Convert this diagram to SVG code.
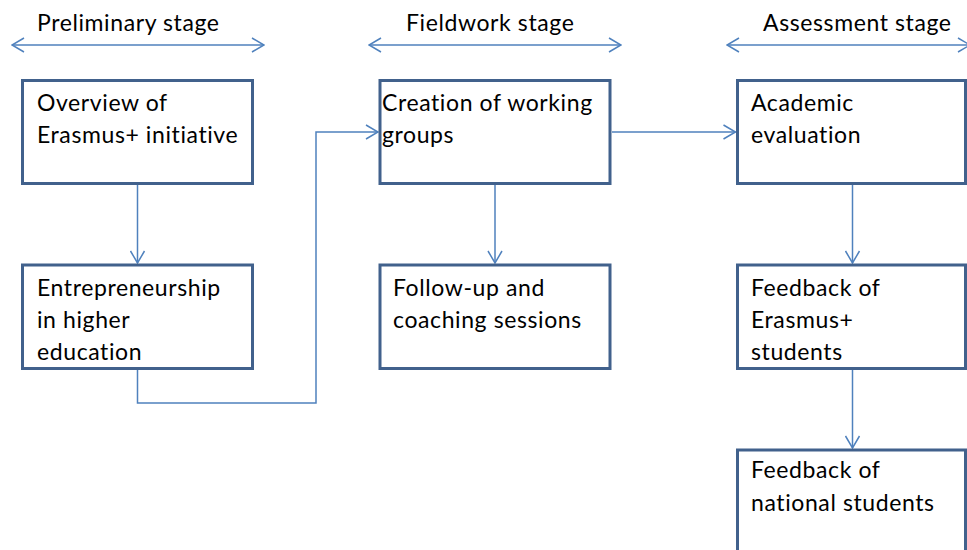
<svg xmlns="http://www.w3.org/2000/svg" width="967" height="550" viewBox="0 0 967 550">
<defs>
<style>
.box{fill:#fff;stroke:#41618c;stroke-width:3}
.con{fill:none;stroke:#4f81bd;stroke-width:1.5}
.t{font-family:Lato,"Liberation Sans",sans-serif;font-size:23px;letter-spacing:0.6px;fill:#000}
</style>
<marker id="ah" viewBox="0 0 14 16" refX="13" refY="8" markerWidth="14" markerHeight="16" markerUnits="userSpaceOnUse" orient="auto-start-reverse">
<path d="M1,1 L13,8 L1,15" fill="none" stroke="#4f81bd" stroke-width="1.5"/>
</marker>
</defs>
<rect width="967" height="550" fill="#fff"/>
<g id="stages">
<text class="t" x="37" y="31">Preliminary stage</text>
<text class="t" x="406" y="31">Fieldwork stage</text>
<text class="t" x="763" y="31">Assessment stage</text>
</g>
<g id="connectors">
<path class="con" d="M12,45 H264" marker-start="url(#ah)" marker-end="url(#ah)"/>
<path class="con" d="M369,45 H621" marker-start="url(#ah)" marker-end="url(#ah)"/>
<path class="con" d="M727,45 H970" marker-start="url(#ah)" marker-end="url(#ah)"/>
<path class="con" d="M137.5,185 V263" marker-end="url(#ah)"/>
<path class="con" d="M137.5,370 V403 H316 V132 H378" marker-end="url(#ah)"/>
<path class="con" d="M495,185 V263" marker-end="url(#ah)"/>
<path class="con" d="M612,132 H735.5" marker-end="url(#ah)"/>
<path class="con" d="M852.5,185 V263" marker-end="url(#ah)"/>
<path class="con" d="M852.5,370 V448" marker-end="url(#ah)"/>
</g>
<g id="n1"><rect class="box" x="22.5" y="80.5" width="230" height="103"/>
<text class="t" x="37" y="111">Overview of</text><text class="t" x="37" y="143">Erasmus+ initiative</text></g>
<g id="n2"><rect class="box" x="22.5" y="265" width="230" height="103.5"/>
<text class="t" x="37" y="296">Entrepreneurship</text><text class="t" x="37" y="328">in higher</text><text class="t" x="37" y="360">education</text></g>
<g id="n3"><rect class="box" x="380" y="80.5" width="230" height="103"/>
<text class="t" x="382" y="111">Creation of working</text><text class="t" x="382" y="143">groups</text></g>
<g id="n4"><rect class="box" x="380" y="265" width="230" height="103.5"/>
<text class="t" x="393" y="296">Follow-up and</text><text class="t" x="393" y="328">coaching sessions</text></g>
<g id="n5"><rect class="box" x="737.5" y="80.5" width="228" height="103"/>
<text class="t" x="751" y="111">Academic</text><text class="t" x="751" y="143">evaluation</text></g>
<g id="n6"><rect class="box" x="737.5" y="265" width="228" height="103.5"/>
<text class="t" x="751" y="296">Feedback of</text><text class="t" x="751" y="328">Erasmus+</text><text class="t" x="751" y="360">students</text></g>
<g id="n7"><rect class="box" x="737.5" y="450" width="228" height="110"/>
<text class="t" x="751" y="478">Feedback of</text><text class="t" x="751" y="511">national students</text></g>
</svg>
